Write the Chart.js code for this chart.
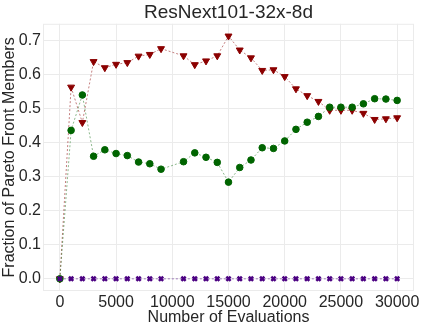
<!DOCTYPE html>
<html>
<head>
<meta charset="utf-8">
<script src="https://cdn.jsdelivr.net/npm/chart.js@4"></script>
<style>
  html, body { margin: 0; padding: 0; background: #fff; }
  #wrap { width: 423px; height: 327px; }
</style>
</head>
<body>
<div id="wrap"><canvas id="chart"></canvas></div>
<script>
const evals = [0, 1000, 2000, 3000, 4000, 5000, 6000, 7000, 8000, 9000,
    11000, 12000, 13000, 14000, 15000, 16000, 17000, 18000, 19000, 20000,
    21000, 22000, 23000, 24000, 25000, 26000, 27000, 28000, 29000, 30000];
const redVals = [0, 0.563, 0.459, 0.638, 0.620, 0.630, 0.635, 0.654, 0.659, 0.676,
    0.655, 0.629, 0.640, 0.655, 0.713, 0.672, 0.649, 0.612, 0.614, 0.594,
    0.558, 0.538, 0.521, 0.495, 0.495, 0.495, 0.486, 0.468, 0.470, 0.473];
const greenVals = [0, 0.436, 0.540, 0.360, 0.379, 0.368, 0.362, 0.343, 0.338, 0.322,
    0.344, 0.370, 0.357, 0.342, 0.284, 0.327, 0.349, 0.385, 0.383, 0.405,
    0.439, 0.460, 0.477, 0.504, 0.504, 0.504, 0.514, 0.529, 0.528, 0.524];
const purpleVals = [0, 0, 0, 0, 0, 0, 0, 0, 0, 0,
    0, 0, 0, 0, 0, 0, 0, 0, 0, 0,
    0, 0, 0, 0, 0, 0, 0, 0, 0, 0];
const xTicks = [0, 5000, 10000, 15000, 20000, 25000, 30000];
const yTicks = [0, 0.1, 0.2, 0.3, 0.4, 0.5, 0.6, 0.7];

const textColor = '#262626';
const gridColor = '#ebebeb';

function points(vals) {
    return evals.map((x, i) => ({ x: x, y: vals[i] }));
}

function series(vals, color, lineColor, style, extra) {
    return Object.assign({
        data: points(vals),
        borderColor: lineColor,
        borderWidth: 1,
        borderDash: [2, 2],
        pointStyle: style,
        pointBackgroundColor: color,
        pointBorderColor: color,
        pointRadius: 3.3,
        pointBorderWidth: 1,
        tension: 0
    }, extra || {});
}

// light frame around the plot area
const frame = {
    id: 'frame',
    afterDraw(chart) {
        const a = chart.chartArea;
        const ctx = chart.ctx;
        ctx.save();
        ctx.strokeStyle = gridColor;
        ctx.lineWidth = 1;
        ctx.strokeRect(a.left + 0.5, a.top + 0.5, a.right - a.left - 1, a.bottom - a.top - 1);
        ctx.restore();
    }
};

Chart.defaults.font.family = '"Liberation Sans", Arial, sans-serif';
Chart.defaults.color = textColor;

new Chart(document.getElementById('chart'), {
    type: 'line',
    data: {
        datasets: [
            series(purpleVals, '#4b0082', 'rgba(75,0,130,0.5)', 'crossRot', { pointBorderWidth: 2.5, pointRadius: 3 }),
            series(greenVals, '#006400', 'rgba(0,100,0,0.45)', 'circle'),
            series(redVals, '#8b0000', 'rgba(139,0,0,0.5)', 'triangle', { pointRotation: 180, pointRadius: 4 })
        ]
    },
    options: {
        responsive: true,
        maintainAspectRatio: false,
        animation: false,
        layout: { padding: { top: 1, right: 9, bottom: 0, left: 0 } },
        plugins: {
            legend: { display: false },
            tooltip: { enabled: false },
            title: {
                display: true,
                fullSize: false,
                text: 'ResNext101-32x-8d',
                color: textColor,
                font: { size: 19, weight: 'normal' },
                padding: { top: 0, bottom: 0 }
            }
        },
        scales: {
            x: {
                type: 'linear',
                min: -1500,
                max: 31500,
                afterBuildTicks: s => { s.ticks = xTicks.map(v => ({ value: v })); },
                afterFit: s => { s.height = 36; },
                grid: { color: gridColor, drawTicks: false },
                border: { display: false },
                ticks: {
                    font: { size: 16 },
                    padding: 2,
                    maxRotation: 0,
                    autoSkip: false,
                    callback: v => String(v)
                },
                title: {
                    display: true,
                    text: 'Number of Evaluations',
                    font: { size: 16 },
                    padding: { top: 0, bottom: 0 }
                }
            },
            y: {
                min: -0.0357,
                max: 0.749,
                afterBuildTicks: s => { s.ticks = yTicks.map(v => ({ value: v })); },
                afterFit: s => { s.width = 43; },
                grid: { color: gridColor, drawTicks: false },
                border: { display: false },
                ticks: {
                    font: { size: 16 },
                    padding: 2,
                    callback: v => v.toFixed(1)
                },
                title: {
                    display: true,
                    text: 'Fraction of Pareto Front Members',
                    font: { size: 16 },
                    padding: { top: 0, bottom: 0 }
                }
            }
        }
    },
    plugins: [frame]
});
</script>
</body>
</html>
